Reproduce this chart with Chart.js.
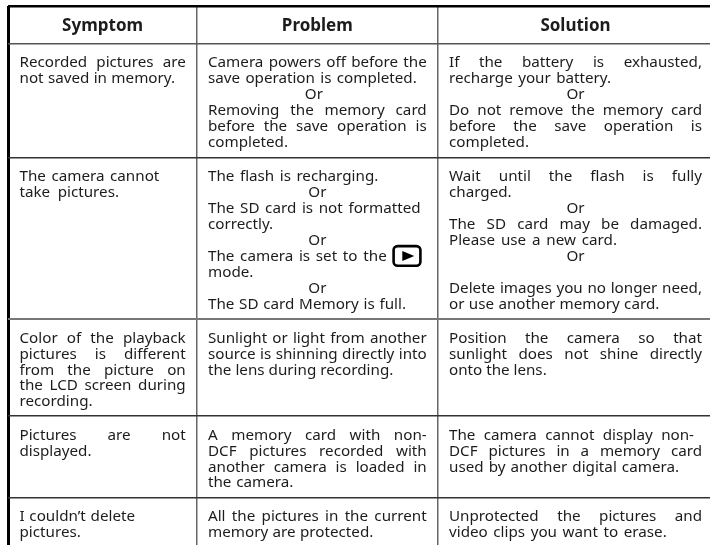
<!DOCTYPE html>
<html>
<head>
<meta charset="utf-8">
<style>
html,body{margin:0;padding:0;background:#fff}
#wrap{width:710px;height:545px}
</style>
<script src="https://cdn.jsdelivr.net/npm/chart.js@4"></script>
</head>
<body>
<div id="wrap"><canvas id="c" width="710" height="545"></canvas></div>
<script>
// headers of the table
const headers = ['Symptom', 'Problem', 'Solution'];
// "~" = justified line, "Or" is centred, "@" = play icon goes after the line
const symptom = [
  ['~Recorded pictures are', 'not saved in memory.'],
  ['The camera cannot', 'take pictures.'],
  ['~Color of the playback', '~pictures is different', '~from the picture on', '~the LCD screen during', 'recording.'],
  ['~Pictures are not', 'displayed.'],
  ['I couldn’t delete', 'pictures.']
];
const problem = [
  ['~Camera powers off before the', 'save operation is completed.', 'Or', '~Removing the memory card', '~before the save operation is', 'completed.'],
  ['The flash is recharging.', 'Or', 'The SD card is not formatted', 'correctly.', 'Or', '@The camera is set to the', 'mode.', 'Or', 'The SD card Memory is full.'],
  ['~Sunlight or light from another', '~source is shinning directly into', 'the lens during recording.'],
  ['~A memory card with non-', '~DCF pictures recorded with', '~another camera is loaded in', 'the camera.'],
  ['~All the pictures in the current', 'memory are protected.']
];
const solution = [
  ['~If the battery is exhausted,', 'recharge your battery.', 'Or', '~Do not remove the memory card', '~before the save operation is', 'completed.'],
  ['~Wait until the flash is fully', 'charged.', 'Or', '~The SD card may be damaged.', 'Please use a new card.', 'Or', '', '~Delete images you no longer need,', 'or use another memory card.'],
  ['~Position the camera so that', '~sunlight does not shine directly', 'onto the lens.'],
  ['The camera cannot display non-', '~DCF pictures in a memory card', 'used by another digital camera.'],
  ['~Unprotected the pictures and', 'video clips you want to erase.']
];
// where the loose lines end in the picture, they don't follow the natural font width
const lineEnds = {
  'not saved in memory.': 175, 'The camera cannot': 159.3, 'take pictures.': 119, 'I couldn’t delete': 135,
  'save operation is completed.': 416.7, 'The flash is recharging.': 378.3, 'The SD card is not formatted': 420.7,
  'The camera is set to the': 386.7, 'The SD card Memory is full.': 406, 'the lens during recording.': 393.3,
  'the camera.': 293.3, 'memory are protected.': 373.3, 'recharge your battery.': 611, 'Please use a new card.': 617,
  'or use another memory card.': 659.3, 'onto the lens.': 546.7, 'The camera cannot display non-': 694,
  'used by another digital camera.': 679, 'video clips you want to erase.': 666.7
};
// rules of the table
const colLines = [8.5, 197, 438];
const rowLines = [6, 43.5, 157.5, 319, 416, 497.5];
const colWidths = [3, 1.5, 1.5];
const rowWidths = [2.4, 1.4, 1.4, 2, 1.4, 1.4];
const colColors = ['#000', '#666', '#666'];
const rowColors = ['#000', '#555', '#333', '#777', '#333', '#333'];

const cols = [symptom, problem, solution];
const textLeft = [19.5, 208, 449];
const textRight = [185.7, 426.7, 702];
const ink = '#1c1c1c';

const tablePlugin = {
  id: 'tableText',
  afterDraw(chart) {
    const ctx = chart.ctx, xs = chart.scales.x, ys = chart.scales.y;
    ctx.save();
    ctx.fillStyle = ink;
    ctx.textBaseline = 'alphabetic';
    // header row
    ctx.font = 'bold 17px "Noto Sans"';
    ctx.textAlign = 'center';
    headers.forEach((h, i) => {
      const mid = (xs.getPixelForValue(textLeft[i]) + xs.getPixelForValue(textRight[i])) / 2;
      ctx.fillText(h, mid, ys.getPixelForValue(rowLines[1] - 12.5));
    });
    // body
    ctx.font = '15.2px "Noto Sans"';
    cols.forEach((col, c) => {
      const left = xs.getPixelForValue(textLeft[c]);
      const right = xs.getPixelForValue(textRight[c]);
      col.forEach((cell, r) => {
        cell.forEach((raw, l) => {
          const y = ys.getPixelForValue(rowLines[r + 1] + 23.6 + l * 15.96);
          if (!raw) return;
          if (raw === 'Or') {
            // the first Or of the problem column sits a bit left of the others
            const shift = (c === 1 && r === 0) ? -3.5 : 0;
            ctx.textAlign = 'center';
            ctx.fillText(raw, (left + right) / 2 + shift, y);
            return;
          }
          ctx.textAlign = 'left';
          const justify = raw[0] === '~';
          const icon = raw[0] === '@';
          const line = (justify || icon) ? raw.slice(1) : raw;
          const words = line.split(' ');
          const end = justify ? right : (lineEnds[line] ? xs.getPixelForValue(lineEnds[line]) : 0);
          if (!end || words.length < 2) {
            ctx.fillText(line, left, y);
            return;
          }
          const total = words.reduce((s, w) => s + ctx.measureText(w).width, 0);
          const gap = (end - left - total) / (words.length - 1);
          let x = left;
          words.forEach(w => {
            ctx.fillText(w, x, y);
            x += ctx.measureText(w).width + gap;
          });
          if (icon) drawPlay(ctx, end + 5.6, y);
        });
      });
    });
    ctx.restore();
  }
};

// the little playback button in the text
function drawPlay(ctx, x, base) {
  ctx.save();
  ctx.strokeStyle = '#000';
  ctx.fillStyle = '#000';
  ctx.lineWidth = 2.6;
  ctx.beginPath();
  ctx.roundRect(x + 1.3, base - 14.8, 26.8, 19.6, 4);
  ctx.stroke();
  ctx.beginPath();
  ctx.moveTo(x + 10, base - 9.8);
  ctx.lineTo(x + 22, base - 4.8);
  ctx.lineTo(x + 10, base + 0.2);
  ctx.closePath();
  ctx.fill();
  ctx.restore();
}

new Chart(document.getElementById('c'), {
  type: 'scatter',
  data: { datasets: [{ data: [], pointRadius: 0 }] },
  plugins: [tablePlugin],
  options: {
    responsive: false,
    animation: false,
    layout: { padding: { left: 8, top: 6, right: 0, bottom: 0 } },
    plugins: { legend: { display: false }, tooltip: { enabled: false } },
    scales: {
      x: {
        type: 'linear', min: 8, max: 710,
        afterBuildTicks(s) { s.ticks = colLines.map(v => ({ value: v })); },
        ticks: { display: false },
        border: { display: false },
        grid: {
          drawTicks: false,
          color: c => colColors[c.index] || '#000',
          lineWidth: c => colWidths[c.index] || 1
        }
      },
      y: {
        type: 'linear', min: 6, max: 545, reverse: true,
        afterBuildTicks(s) { s.ticks = rowLines.map(v => ({ value: v })); },
        ticks: { display: false },
        border: { display: false },
        grid: {
          drawTicks: false,
          color: c => rowColors[c.index] || '#000',
          lineWidth: c => rowWidths[c.index] || 1
        }
      }
    }
  }
});
</script>
</body>
</html>
